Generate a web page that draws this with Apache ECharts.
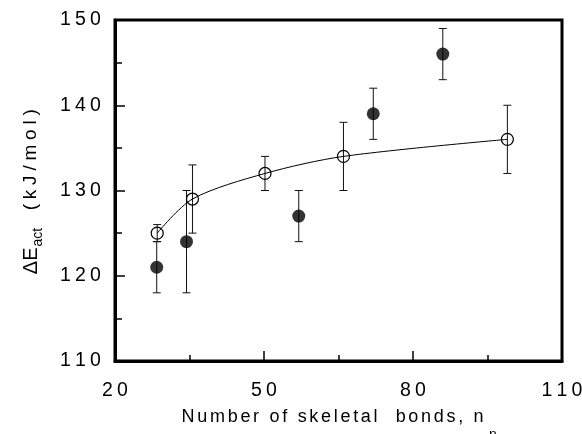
<!DOCTYPE html>
<html>
<head>
<meta charset="utf-8">
<script src="https://cdn.jsdelivr.net/npm/echarts@6/dist/echarts.min.js"></script>
<style>
html,body{margin:0;padding:0;background:#fff;}
#c{width:582px;height:434px;}
</style>
</head>
<body>
<div id="c"></div>
<script>
// Open circles (fitted curve series)
var openX = [28.5, 35.6, 50.2, 66, 99];
var openY = [125, 129, 132, 134, 136];
var openLow = [124, 125, 130, 130, 132];
var openHigh = [126, 133, 134, 138, 140];
// Filled circles
var filledX = [28.4, 34.4, 57, 72, 86];
var filledY = [121, 124, 127, 139, 146];
var filledLow = [118, 118, 124, 136, 143];
var filledHigh = [124, 130, 130, 142, 149];
// Axis ticks
var xTicks = [20, 50, 80, 110];
var yTicks = [110, 120, 130, 140, 150];

var FONT = 'Liberation Sans';

function spaced(str, style) {
  return str.split('').map(function (ch) { return '{' + style + '|' + ch + '}'; }).join('');
}
function digits(v) {
  return String(v).split('').map(function (ch) { return '{d|' + ch + '}'; }).join('');
}

var digitRich = { d: { width: 15, align: 'center', fontSize: 19.5, fontFamily: FONT, color: '#000' } };

var chart = echarts.init(document.getElementById('c'), null, { renderer: 'canvas' });

function errRender(params, api) {
  var x = api.value(0), lo = api.value(1), hi = api.value(2);
  var pHi = api.coord([x, hi]);
  var pLo = api.coord([x, lo]);
  var w = 4;
  var st = { stroke: '#111', lineWidth: 1 };
  return {
    type: 'group',
    children: [
      { type: 'line', shape: { x1: pHi[0], y1: pHi[1], x2: pLo[0], y2: pLo[1] }, style: st },
      { type: 'line', shape: { x1: pHi[0] - w, y1: pHi[1], x2: pHi[0] + w, y2: pHi[1] }, style: st },
      { type: 'line', shape: { x1: pLo[0] - w, y1: pLo[1], x2: pLo[0] + w, y2: pLo[1] }, style: st }
    ]
  };
}

var xName = spaced('Number of skeletal  bonds, n', 'c') + '{s|n}';
var yName = '{e|\u0394E}{s|act}' + spaced(' (kJ/mol)', 'c');

var option = {
  animation: false,
  backgroundColor: '#fff',
  grid: { left: 115, right: 20, top: 20, bottom: 73, containLabel: false, outerBoundsMode: 'none', show: true, borderColor: '#000', borderWidth: 3 },
  xAxis: {
    type: 'value', min: xTicks[0], max: xTicks[xTicks.length - 1], interval: 30,
    axisLine: { show: true, lineStyle: { color: '#000', width: 3 } },
    axisTick: { show: true, inside: true, length: 10, lineStyle: { color: '#000', width: 1.5 } },
    minorTick: { show: true, splitNumber: 2, length: 6, lineStyle: { color: '#000', width: 1.5 } },
    splitLine: { show: false },
    axisLabel: { margin: 20, formatter: digits, rich: digitRich },
    name: xName,
    nameLocation: 'middle',
    nameGap: 47,
    nameTextStyle: {
      rich: {
        c: { fontSize: 18, fontFamily: FONT, color: '#000', lineHeight: 20, verticalAlign: 'top', padding: [0, 1.35, 0, 1.35] },
        s: { fontSize: 14, fontFamily: FONT, color: '#000', lineHeight: 14, verticalAlign: 'top', padding: [20, 0, 0, 4] }
      }
    }
  },
  yAxis: {
    type: 'value', min: yTicks[0], max: yTicks[yTicks.length - 1], interval: 10,
    axisLine: { show: true, lineStyle: { color: '#000', width: 3 } },
    axisTick: { show: true, inside: true, length: 10, lineStyle: { color: '#000', width: 1.5 } },
    minorTick: { show: true, splitNumber: 2, length: 7, lineStyle: { color: '#000', width: 1.5 } },
    splitLine: { show: false },
    axisLabel: { margin: 12, formatter: digits, rich: digitRich },
    name: yName,
    nameLocation: 'middle',
    nameRotate: 90,
    nameGap: 74,
    nameTextStyle: {
      rich: {
        e: { fontSize: 20, fontFamily: FONT, color: '#000', lineHeight: 20, verticalAlign: 'top', padding: [0, 0, 0, 0] },
        c: { fontSize: 19, fontFamily: FONT, color: '#000', lineHeight: 20, verticalAlign: 'top', padding: [0, 2.4, 0, 2.4] },
        s: { fontSize: 14, fontFamily: FONT, color: '#000', lineHeight: 14, verticalAlign: 'top', padding: [10, 5, 0, 1] }
      }
    }
  },
  series: [
    {
      type: 'custom', renderItem: errRender, z: 2,
      data: openX.map(function (x, i) { return [x, openLow[i], openHigh[i]]; })
    },
    {
      type: 'custom', renderItem: errRender, z: 2,
      data: filledX.map(function (x, i) { return [x, filledLow[i], filledHigh[i]]; })
    },
    {
      type: 'line', z: 3, smooth: 0.3,
      data: openX.map(function (x, i) { return [x, openY[i]]; }),
      symbol: 'circle', symbolSize: 12,
      itemStyle: { color: 'rgba(0,0,0,0)', borderColor: '#000', borderWidth: 1.2 },
      lineStyle: { color: '#000', width: 1 }
    },
    {
      type: 'scatter', z: 4,
      data: filledX.map(function (x, i) { return [x, filledY[i]]; }),
      symbol: 'circle', symbolSize: 13,
      itemStyle: { color: '#000' }
    }
  ]
};
chart.setOption(option);
</script>
</body>
</html>
